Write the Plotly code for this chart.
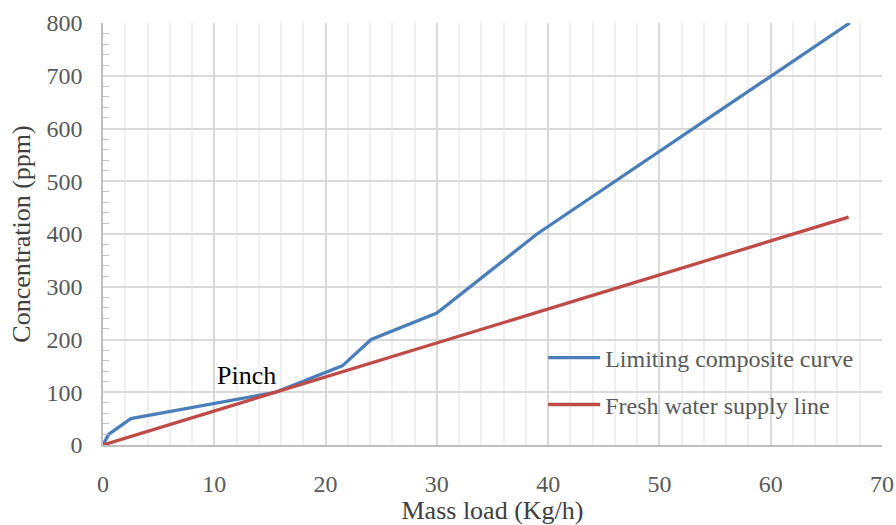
import plotly.graph_objects as go

# Data
lcc_mass = [0, 0.5, 2.5, 15.5, 21.5, 24.1, 30, 39, 67.1]
lcc_conc = [0, 20, 50, 100, 150, 200, 250, 400, 800]
fw_mass = [0, 67]
fw_conc = [0, 432]

FONT = "Liberation Serif, Times New Roman, serif"

fig = go.Figure()
fig.add_trace(go.Scatter(x=lcc_mass, y=lcc_conc, mode="lines",
                         name="Limiting composite curve", legend="legend",
                         line=dict(color="#4A7EBB", width=3.3)))
fig.add_trace(go.Scatter(x=fw_mass, y=fw_conc, mode="lines",
                         name="Fresh water supply line", legend="legend2",
                         line=dict(color="#BE4B48", width=3.3)))

fig.add_annotation(x=15.5, y=100, text="Pinch", showarrow=False,
                   xanchor="right", yanchor="bottom", xshift=3, yshift=0,
                   font=dict(family=FONT, size=26, color="black"))

leg_common = dict(xanchor="left", yanchor="middle", bgcolor="rgba(0,0,0,0)",
                  font=dict(family=FONT, size=24, color="#595959"), itemwidth=52)

fig.update_layout(
    width=896, height=525,
    margin=dict(l=103, r=14, t=23, b=80),
    paper_bgcolor="white", plot_bgcolor="white",
    font=dict(family=FONT, size=24, color="#595959"),
    showlegend=True,
    legend=dict(x=0.565, y=0.206, **leg_common),
    legend2=dict(x=0.565, y=0.095, **leg_common),
    xaxis=dict(range=[0, 70], dtick=10, showgrid=True, gridcolor="#D9D9D9", gridwidth=1.5,
               showline=True, linecolor="#BFBFBF", linewidth=1.5, zeroline=False,
               ticks="", ticklabelstandoff=16, automargin=False,
               minor=dict(dtick=2, showgrid=True, gridcolor="#F0F0F0", gridwidth=1.5),
               title=dict(text="Mass load (Kg/h)", font=dict(family=FONT, size=26, color="#404040"), standoff=10),
               tickfont=dict(family=FONT, size=24, color="#595959")),
    yaxis=dict(range=[0, 800], dtick=100, showgrid=True, gridcolor="#D9D9D9", gridwidth=1.5,
               showline=True, linecolor="#BFBFBF", linewidth=1.5, zeroline=False,
               ticks="", ticklabelstandoff=14, automargin=False,
               minor=dict(dtick=20, ticks="inside", ticklen=6, tickcolor="#BFBFBF", tickwidth=1.2, showgrid=False),
               title=dict(text="Concentration (ppm)", font=dict(family=FONT, size=26, color="#404040"), standoff=8),
               tickfont=dict(family=FONT, size=24, color="#595959")),
)

fig.write_html("out.html", config={"displayModeBar": False},
               post_script="document.body.style.margin='0';")
